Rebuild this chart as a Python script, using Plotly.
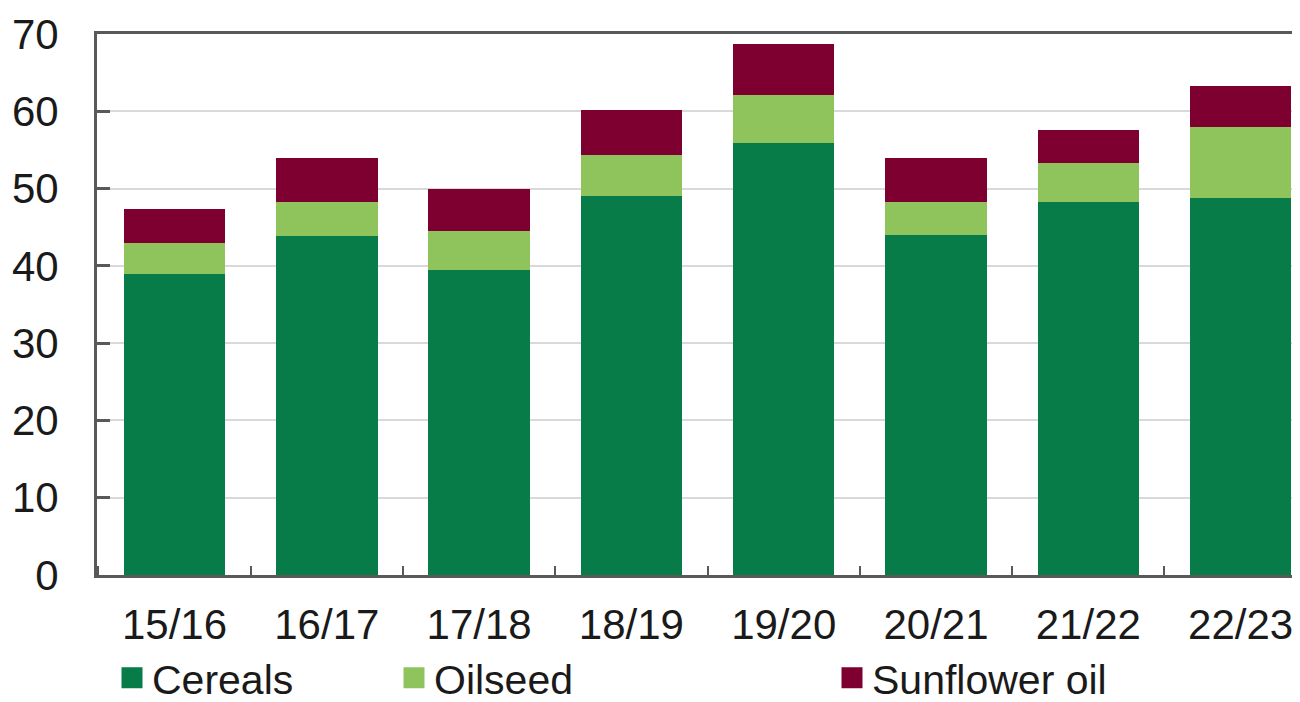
import plotly.graph_objects as go

categories = ["15/16", "16/17", "17/18", "18/19", "19/20", "20/21", "21/22", "22/23"]
cereals = [38.9, 43.9, 39.4, 49.1, 55.9, 44.0, 48.2, 48.8]
oilseed = [4.1, 4.4, 5.1, 5.2, 6.2, 4.3, 5.1, 9.2]
sunflower_oil = [4.4, 5.6, 5.4, 5.9, 6.6, 5.6, 4.3, 5.3]
y_ticks = [0, 10, 20, 30, 40, 50, 60, 70]

series = [
    ("Cereals", cereals, "#077C49", "legend"),
    ("Oilseed", oilseed, "#8FC45D", "legend2"),
    ("Sunflower oil", sunflower_oil, "#7D0030", "legend3"),
]

# page body has an 8px margin, so the figure is sized to fit the visible window
OFF = 8
W, H = 1300 - OFF, 702 - OFF
FONT = "Liberation Sans, Arial, sans-serif"

fig = go.Figure()
for name, vals, col, _ in series:
    fig.add_trace(go.Bar(x=categories, y=vals, name=name, marker_color=col,
                         marker_line_width=0, showlegend=False))
for name, vals, col, lg in series:
    fig.add_trace(go.Scatter(x=[None], y=[None], mode="markers", name=name,
                             marker=dict(symbol="square", size=16, color=col,
                                         line=dict(color=col, width=5)),
                             legend=lg, showlegend=True))

def leg(xpx):
    return dict(xref="container", yref="container", x=xpx / W,
                y=1 - 670 / H,
                xanchor="left", yanchor="middle", orientation="h",
                font=dict(family=FONT, size=41, color="#1a1a1a"),
                bgcolor="rgba(0,0,0,0)", borderwidth=0)

fig.update_layout(
    width=W, height=H,
    margin=dict(l=97 - OFF, r=0, t=34 - OFF, b=702 - 575, autoexpand=False),
    paper_bgcolor="white", plot_bgcolor="white",
    barmode="stack", bargap=0.333,
    font=dict(family=FONT, size=42, color="#1a1a1a"),
    legend=leg(104), legend2=leg(386), legend3=leg(824),
)
fig.update_xaxes(
    range=[-0.509, 7.443 - OFF / 151.3], automargin=False, showline=True,
    linecolor="#595959", linewidth=3, mirror=True, ticks="inside",
    tickson="boundaries", ticklen=9, tickwidth=1.5, tickcolor="#595959",
    ticklabelstandoff=11, showgrid=False,
    tickfont=dict(family=FONT, size=42, color="#1a1a1a"),
)
fig.update_yaxes(
    range=[0, 70], tickvals=y_ticks, automargin=False, showline=True,
    linecolor="#595959", linewidth=3,
    ticks="inside", ticklen=13, tickwidth=3, tickcolor="#595959",
    showgrid=True, gridcolor="#d9d9d9", gridwidth=1.5, zeroline=False,
    ticklabelstandoff=27,
    tickfont=dict(family=FONT, size=42, color="#1a1a1a"),
)

fig.write_html("out.html")
